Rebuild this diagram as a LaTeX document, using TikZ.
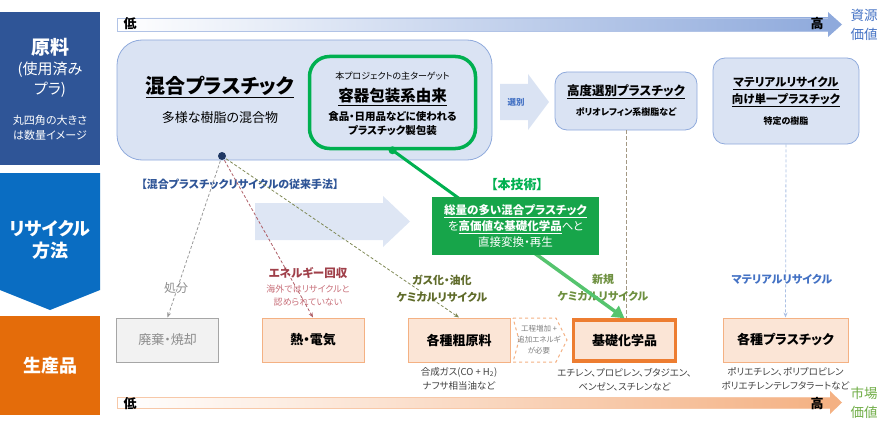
\documentclass[tikz,border=0pt]{standalone}
\usepackage{fontspec}
\setmainfont{Noto Sans CJK JP}[RawFeature=+palt]
\usetikzlibrary{arrows.meta, positioning, calc}

\definecolor{navyband}{HTML}{2F5597}
\definecolor{blueband}{HTML}{0A6DC2}
\definecolor{orangeband}{HTML}{E46C0A}
\definecolor{paleblue}{HTML}{DAE3F3}
\definecolor{edgeblue}{HTML}{8FAADC}
\definecolor{techgreen}{HTML}{00B050}
\definecolor{techfill}{HTML}{17A54A}
\definecolor{lightgreen}{HTML}{55C46E}
\definecolor{peach}{HTML}{FBE5D6}
\definecolor{peachedge}{HTML}{F4B183}
\definecolor{kisoedge}{HTML}{ED7D31}
\definecolor{wine}{HTML}{A0404A}
\definecolor{winelight}{HTML}{C8707A}
\definecolor{olive}{HTML}{5F6B2A}
\definecolor{newgreen}{HTML}{6E9040}
\definecolor{matblue}{HTML}{4472C4}
\definecolor{dotnavy}{HTML}{1F3864}
\definecolor{valgreen}{HTML}{70AD47}
\definecolor{sortline}{HTML}{A39883}

\newcommand\fz[2]{\fontsize{#1}{#2}\selectfont}

\begin{document}
\begin{tikzpicture}[x=1pt, y=-1pt,
    bandtext/.style={text=white, align=center},
    source/.style={draw=edgeblue, fill=paleblue, rounded corners=12pt, line width=0.8pt},
    product/.style={draw=peachedge, fill=peach, line width=1pt, minimum width=102, minimum height=44, font=\fz{13}{15}\bfseries},
    note/.style={align=center, text=black!75, font=\fz{9.5}{14}},
    route/.style={dash pattern=on 3pt off 2pt, line width=0.8pt, -{Stealth[length=5pt,width=4pt]}},
]
    \useasboundingbox (0,0) rectangle (893,433);

    % left bands
    \fill[navyband] (0,12) rectangle (100,165);
    \node[bandtext, font=\fz{19}{22}\bfseries] (genryo) at (50,47) {原料};
    \node[bandtext, font=\fz{15}{20}] (genryosub) at (50,80) {(使用済み\\プラ)};
    \node[bandtext, font=\fz{11}{15}] (genryonote) at (50,127.5) {丸四角の大きさ\\は数量イメージ};
    \fill[blueband] (0,173) -- (100,173) -- (100,290) -- (50,310) -- (0,290) -- cycle;
    \node[bandtext, font=\fz{18}{22}\bfseries] (method) at (50,240) {リサイクル\\方法};
    \fill[orangeband] (0,316) rectangle (100,415);
    \node[bandtext, font=\fz{18}{22}\bfseries] (output) at (50,366) {生産品};

    % value axes
    \shade[left color=white, right color=edgeblue, draw=edgeblue!70] (117,18) rectangle (828,31);
    \fill[edgeblue] (828,12) -- (842,24.5) -- (828,37) -- cycle;
    \node[font=\fz{13}{15}\bfseries] (reslow) at (130,24) {低};
    \node[font=\fz{13}{15}\bfseries] (reshigh) at (817,24) {高};
    \node[text=matblue, align=center, font=\fz{13.5}{19}] (resvalue) at (864,25) {資源\\価値};
    \shade[left color=white, right color=peachedge, draw=peachedge!70] (117,397) rectangle (830,408);
    \fill[peachedge] (830,391) -- (842,402.5) -- (830,414) -- cycle;
    \node[font=\fz{13}{15}\bfseries] (mktlow) at (130,404) {低};
    \node[font=\fz{13}{15}\bfseries] (mkthigh) at (817,404) {高};
    \node[text=valgreen, align=center, font=\fz{13.5}{19}] (mktvalue) at (864,403) {市場\\価値};

    % raw material
    \node[source, rounded corners=25pt, minimum width=375, minimum height=120] (mixed) at (304.5,100) {};
    \node[font=\fz{20}{24}\bfseries] (mixedtitle) at (220,87) {\underline{混合プラスチック}};
    \node[font=\fz{13}{15}] (mixedsub) at (220,118) {多様な樹脂の混合物};
    \node[draw=techgreen, fill=paleblue, line width=3.5pt, rounded corners=20pt, minimum width=166, minimum height=92] (target) at (392.5,102.5) {};
    \node[font=\fz{9}{11}] (targetlead) at (392.5,76) {本プロジェクトの主ターゲット};
    \node[font=\fz{15.5}{18}\bfseries] (targettitle) at (392.5,97) {\underline{容器包装系由来}};
    \node[align=center, font=\fz{10.5}{14}\bfseries] (targetsub) at (392.5,124) {食品・日用品などに使われる\\プラスチック製包装};
    \coordinate (mdot) at (222,156);
    \coordinate (gdot) at (target.south);

    \fill[paleblue] (500,84) -- (528,84) -- (528,74) -- (549,102) -- (528,130) -- (528,120) -- (500,120) -- cycle;
    \node[text=matblue, font=\fz{8.5}{10}\bfseries] (sort) at (516,102) {選別};

    \node[source, minimum width=142, minimum height=58] (sorted) at (626,101) {};
    \node[align=center, font=\fz{12.5}{20}] (sortedtext) at (626,101) {\textbf{\underline{高度選別プラスチック}}\\{\fz{9}{11}\bfseries ポリオレフィン系樹脂など}};
    \node[source, minimum width=146, minimum height=86] (single) at (786,101) {};
    \node[align=center, font=\fz{11.5}{17}\bfseries] (singletext) at (786,92) {\underline{マテリアルリサイクル}\\\underline{向け単一プラスチック}};
    \node[font=\fz{9}{11}\bfseries] (singlesub) at (786,121) {特定の樹脂};

    % products
    \node[product, draw=black!35, fill=black!5, text=black!45, font=\fz{13}{15}] (waste) at (167.5,340) {廃棄・焼却};
    \node[product] (heat) at (313,340) {熱・電気};
    \node[product] (crude) at (459,340) {各種粗原料};
    \node[product, draw=kisoedge, line width=3.5pt, minimum width=102, minimum height=41] (kiso) at (624.5,340.5) {基礎化学品};
    \node[product, minimum width=125] (plastics) at (785.5,340) {各種プラスチック};
    \node[note, below=1pt of crude] (crudenote) {合成ガス(CO + H\textsubscript{2})\\ナフサ相当油など};
    \node[note, below=2pt of kiso] (kisonote) {エチレン、プロピレン、ブタジエン、\\ベンゼン、スチレンなど};
    \node[note, below=1pt of plastics] (plasticsnote) {ポリエチレン、ポリプロピレン\\ポリエチレンテレフタラートなど};
    \draw[dashed, draw=peachedge, fill=white, line width=1pt] (513,318) -- (556,318) -- (567,340) -- (556,362) -- (513,362) -- (519,340) -- cycle;
    \node[align=center, text=black!50, font=\fz{7.5}{11}] (extra) at (539,340) {工程増加 +\\追加エネルギ\\が必要};

    % conventional routes
    \node[text=navyband, font=\fz{11}{13}\bfseries] (oldlabel) at (240,184) {【混合プラスチックリサイクルの従来手法】};
    \fill[paleblue!90] (255,203) -- (383,203) -- (383,196) -- (410,221.5) -- (383,247) -- (383,240) -- (255,240) -- cycle;
    \draw[route, black!40] (mdot) -- (waste.north);
    \draw[route, wine!85] (mdot) -- (heat.north);
    \draw[route, olive!80] (mdot) -- (crude.north);
    \fill[dotnavy] (mdot) circle (4);
    \node[text=black!45, font=\fz{12}{14}] (dispose) at (176,288) {処分};
    \node[text=wine, font=\fz{11.5}{14}\bfseries] (energy) at (308,273) {エネルギー回収};
    \node[text=winelight, align=center, font=\fz{9}{13}] (energynote) at (308,296) {海外ではリサイクルと\\認められていない};
    \node[text=olive, align=center, font=\fz{11}{17}\bfseries] (gasify) at (442,289) {ガス化・油化\\ケミカルリサイクル};

    % new routes
    \draw[dash pattern=on 4pt off 2pt, line width=1pt, sortline] (sorted.south) -- (sorted.south |- kiso.north);
    \draw[route, matblue!45] (single.south) -- (plastics.north);
    \node[text=matblue, font=\fz{11}{13}\bfseries] (material) at (782,279) {マテリアルリサイクル};
    \node[text=newgreen, align=center, font=\fz{11}{17}\bfseries] (newchem) at (603,288) {新規\\ケミカルリサイクル};
    \draw[techgreen, line width=3pt] (gdot) -- ($(gdot)!0.62!(kiso.north)$);
    \draw[lightgreen, line width=3.5pt, -{Triangle[length=12pt,width=13pt]}] ($(gdot)!0.6!(kiso.north)$) -- (kiso.north);
    \fill[techgreen] (gdot) circle (4);
    \node[text=techgreen, font=\fz{13}{15}\bfseries] (techlabel) at (517,185) {【本技術】};
    \node[fill=techfill, text=white, align=center, minimum width=167, minimum height=58, font=\fz{11.5}{16}] (tech) at (515.5,226)
        {\textbf{\underline{総量の多い混合プラスチック}}\\を\textbf{\underline{高価値な基礎化学品}}へと\\直接変換・再生};
\end{tikzpicture}
\end{document}
